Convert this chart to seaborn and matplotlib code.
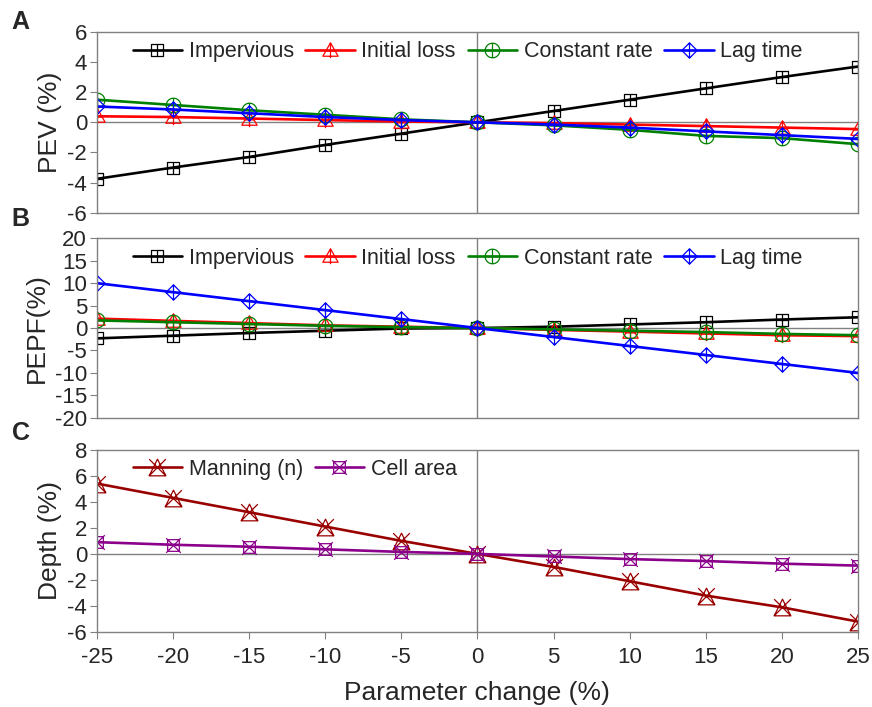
import numpy as np
import pandas as pd
import matplotlib
matplotlib.use("Agg")
import matplotlib.pyplot as plt
from matplotlib.path import Path
import seaborn as sns

change = [-25, -20, -15, -10, -5, 0, 5, 10, 15, 20, 25]

# Panel A - PEV (%)
pev_impervious = [-3.75, -3.0, -2.3, -1.5, -0.75, 0, 0.75, 1.5, 2.25, 3.0, 3.7]
pev_initial = [0.4, 0.35, 0.25, 0.15, 0.05, 0, -0.05, -0.15, -0.25, -0.35, -0.45]
pev_constant = [1.5, 1.15, 0.8, 0.5, 0.2, 0, -0.2, -0.5, -0.9, -1.05, -1.45]
pev_lag = [1.05, 0.85, 0.6, 0.35, 0.15, 0, -0.15, -0.35, -0.6, -0.85, -1.1]

# Panel B - PEPF (%)
pepf_impervious = [-2.3, -1.7, -1.1, -0.6, -0.1, 0, 0.3, 0.8, 1.3, 1.9, 2.4]
pepf_initial = [2.1, 1.6, 1.1, 0.6, 0.3, 0, -0.4, -0.8, -1.2, -1.6, -1.8]
pepf_constant = [1.7, 1.3, 0.9, 0.5, 0.2, 0, -0.3, -0.6, -0.9, -1.3, -1.6]
pepf_lag = [10, 8, 6, 4, 2, 0, -2, -4, -6, -8, -10]

# Panel C - Depth (%)
depth_manning = [5.4, 4.3, 3.2, 2.1, 1.0, 0, -1.0, -2.1, -3.2, -4.1, -5.2]
depth_cell = [0.9, 0.7, 0.55, 0.35, 0.15, 0, -0.2, -0.4, -0.55, -0.75, -0.9]


# custom markers: outline + cross
def make_marker(outline, cross):
    verts, codes = [], []
    for i, v in enumerate(outline):
        verts.append(v)
        codes.append(Path.MOVETO if i == 0 else Path.LINETO)
    verts.append(outline[0])
    codes.append(Path.CLOSEPOLY)
    for a, b in cross:
        verts += [a, b]
        codes += [Path.MOVETO, Path.LINETO]
    return Path(verts, codes)


t = np.linspace(0, 2 * np.pi, 40, endpoint=False)
circle = list(zip(np.cos(t), np.sin(t)))
plus = [((-1, 0), (1, 0)), ((0, -1), (0, 1))]

m_square_plus = make_marker([(-1, -1), (1, -1), (1, 1), (-1, 1)], plus)
m_tri_plus = make_marker([(-1, -0.75), (1, -0.75), (0, 1)],
                         [((-0.6, -0.05), (0.6, -0.05)), ((0, -1), (0, 1))])
m_circ_plus = make_marker(circle, plus)
m_diam_plus = make_marker([(0, -1), (1, 0), (0, 1), (-1, 0)], plus)
m_tri_x = make_marker([(-1, -1), (1, -1), (0, 1)],
                      [((-1, -1), (1, 1)), ((1, -1), (-1, 1))])
m_sq_x = make_marker([(-0.8, -0.8), (0.8, -0.8), (0.8, 0.8), (-0.8, 0.8)],
                     [((-1, -1), (1, 1)), ((1, -1), (-1, 1))])

sns.set_style("white")
plt.rcParams["font.family"] = ["Liberation Sans", "DejaVu Sans"]

fig = plt.figure(figsize=(8.72, 7.07), dpi=100)
left, width = 0.111, 0.873
ax_a = fig.add_axes([left, 0.699, width, 0.256])
ax_b = fig.add_axes([left, 0.409, width, 0.254])
ax_c = fig.add_axes([left, 0.106, width, 0.258])

panels = [
    (ax_a, [("Impervious", pev_impervious, "black", m_square_plus, 9),
            ("Initial loss", pev_initial, "#ff0000", m_tri_plus, 11),
            ("Constant rate", pev_constant, "#008000", m_circ_plus, 10.5),
            ("Lag time", pev_lag, "#0000ff", m_diam_plus, 11)],
     "PEV (%)", (-6, 6), np.arange(-6, 7, 2), "A", 1.055),
    (ax_b, [("Impervious", pepf_impervious, "black", m_square_plus, 9),
            ("Initial loss", pepf_initial, "#ff0000", m_tri_plus, 11),
            ("Constant rate", pepf_constant, "#008000", m_circ_plus, 10.5),
            ("Lag time", pepf_lag, "#0000ff", m_diam_plus, 11)],
     "PEPF(%)", (-20, 20), np.arange(-20, 21, 5), "B", 1.11),
    (ax_c, [("Manning (n)", depth_manning, "#990000", m_tri_x, 12),
            ("Cell area", depth_cell, "#8b008b", m_sq_x, 10.5)],
     "Depth (%)", (-6, 8), np.arange(-6, 9, 2), "C", 1.09),
]

for ax, series, ylabel, ylim, yticks, letter, ly in panels:
    ax.axhline(0, color="#808080", lw=1, zorder=0)
    ax.axvline(0, color="#808080", lw=1, zorder=0)
    for name, vals, col, mk, ms in series:
        df = pd.DataFrame({"change": change, "value": vals})
        sns.lineplot(data=df, x="change", y="value", ax=ax, color=col,
                     lw=1.9, marker=mk, markersize=ms, markerfacecolor="none",
                     markeredgecolor=col, markeredgewidth=0.9, label=name)
    ax.set_xlim(-25, 25)
    ax.set_ylim(*ylim)
    ax.set_yticks(yticks)
    ax.set_yticklabels([str(v) for v in yticks], fontsize=16)
    ax.set_ylabel(ylabel, fontsize=19, labelpad=4)
    ax.set_xlabel("")
    for sp in ax.spines.values():
        sp.set_color("#808080")
        sp.set_linewidth(1)
    ax.tick_params(axis="y", direction="out", length=5, color="#808080",
                   left=True, pad=2)
    ax.legend(loc="upper left", bbox_to_anchor=(0.03, 1.02), ncol=4,
              frameon=False, fontsize=15.5, handlelength=2.3,
              handletextpad=0.3, columnspacing=0.55, borderaxespad=0.2)
    ax.text(-0.112, ly, letter, transform=ax.transAxes, fontsize=18,
            fontweight="bold", va="center", ha="left")

for ax in (ax_a, ax_b):
    ax.set_xticks([])

ax_c.set_xticks(change)
ax_c.set_xticklabels([str(v) for v in change], fontsize=16)
ax_c.tick_params(axis="x", direction="out", length=5, color="#808080",
                 bottom=True, pad=6)
ax_c.set_xlabel("Parameter change (%)", fontsize=19, labelpad=9)

fig.savefig("out.png", dpi=100)
